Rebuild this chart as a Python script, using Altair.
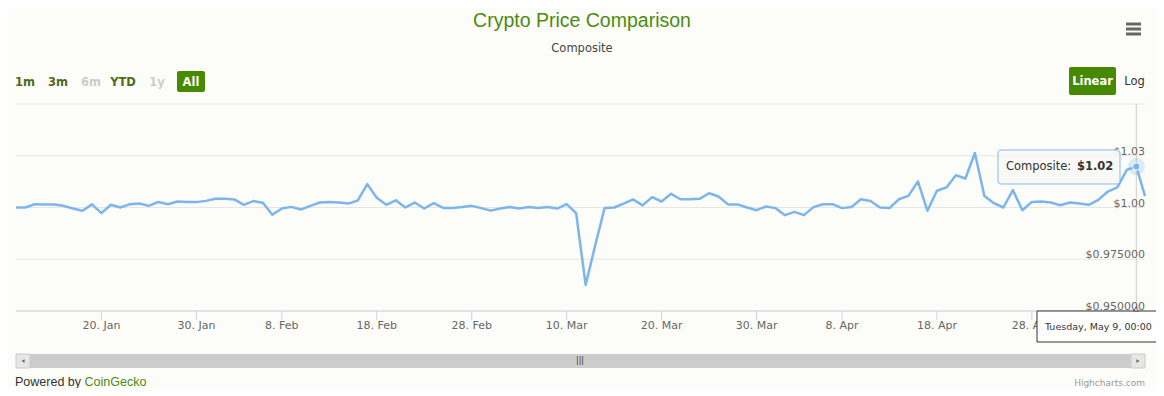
import altair as alt
import pandas as pd

# ---------------- data ----------------
day_dates = [d.strftime("%Y-%m-%dT00:00:00Z") for d in pd.date_range("2017-01-11", "2017-05-09", freq="D")]
dates = day_dates + ["2017-05-09T22:00:00Z"]

values = [
    # Jan 11 - Jan 31
    1.0000, 1.0000, 1.0016, 1.0015, 1.0015, 1.0008, 0.9995, 0.9984, 1.0015, 0.9973,
    1.0013, 1.0000, 1.0016, 1.0019, 1.0008, 1.0027, 1.0016, 1.0029, 1.0027, 1.0026,
    1.0032,
    # Feb 1 - Feb 28
    1.0042, 1.0042, 1.0039, 1.0013, 1.0031, 1.0023, 0.9965, 0.9995, 1.0003, 0.9990,
    1.0008, 1.0024, 1.0027, 1.0024, 1.0019, 1.0034, 1.0113, 1.0047, 1.0013, 1.0035,
    1.0000, 1.0024, 0.9995, 1.0021, 0.9998, 0.9998, 1.0002, 1.0008,
    # Mar 1 - Mar 31
    0.9997, 0.9985, 0.9995, 1.0002, 0.9995, 1.0002, 0.9998, 1.0002, 0.9995, 1.0016,
    0.9973, 0.9626, 0.9815, 0.9998, 1.0000, 1.0019, 1.0039, 1.0010, 1.0050, 1.0029,
    1.0066, 1.0040, 1.0040, 1.0042, 1.0069, 1.0053, 1.0015, 1.0015, 1.0000, 0.9987,
    1.0005,
    # Apr 1 - Apr 30
    0.9997, 0.9963, 0.9979, 0.9963, 1.0002, 1.0016, 1.0016, 0.9997, 1.0002, 1.0040,
    1.0031, 1.0000, 0.9997, 1.0040, 1.0056, 1.0126, 0.9984, 1.0081, 1.0097, 1.0156,
    1.0140, 1.0263, 1.0056, 1.0021, 1.0000, 1.0084, 0.9987, 1.0027, 1.0029, 1.0024,
    # May 1 - May 9, then latest
    1.0011, 1.0024, 1.0019, 1.0013, 1.0037, 1.0077, 1.0097, 1.0182, 1.0198,
    1.0055,
]

x_tick_dates = ["2017-01-20", "2017-01-30", "2017-02-08", "2017-02-18", "2017-02-28", "2017-03-10",
                "2017-03-20", "2017-03-30", "2017-04-08", "2017-04-18", "2017-04-28"]
x_tick_labels = ["20. Jan", "30. Jan", "8. Feb", "18. Feb", "28. Feb", "10. Mar",
                 "20. Mar", "30. Mar", "8. Apr", "18. Apr", "28. Apr"]
y_ticks = [0.95, 0.975, 1.0, 1.025]
y_labels = ["$0.950000", "$0.975000", "$1.00", "$1.03"]
grid_values = [0.95, 0.975, 1.0, 1.025, 1.05]

hover_date = "2017-05-09T00:00:00Z"
hover_value = values[dates.index(hover_date)]

df = pd.DataFrame({"date": dates, "value": values})
df_hover = pd.DataFrame({"date": [hover_date], "value": [hover_value]})
df_ylab = pd.DataFrame({"v": y_ticks, "label": y_labels})
df_xt = pd.DataFrame({"date": [d + "T00:00:00Z" for d in x_tick_dates], "label": x_tick_labels})
df_grid = pd.DataFrame({"v": grid_values})

# ---------------- styling ----------------
W, H = 1129, 207
GREEN = "#4b8b10"
BTN_GREEN = "#468a00"
LINE = "#7cb5ec"

xscale = alt.Scale(type="utc", nice=False)
yscale = alt.Scale(domain=[0.95, 1.05], nice=False, zero=False)

X = alt.X("date:T", scale=xscale, axis=None)

grid = alt.Chart(df_grid).mark_rule(color="#e6e6e6", strokeWidth=1).encode(
    y=alt.Y("v:Q", scale=yscale, axis=None), x=alt.value(0), x2=alt.value(W))

line = alt.Chart(df).mark_line(color=LINE, strokeWidth=2.5, strokeJoin="round").encode(
    x=X, y=alt.Y("value:Q", scale=yscale, axis=None))

ylabels = alt.Chart(df_ylab).mark_text(align="right", baseline="alphabetic", dy=-1,
                                       fontSize=11, color="#666666", font="DejaVu Sans").encode(
    x=alt.value(W), y=alt.Y("v:Q", scale=yscale, axis=None), text="label:N")

xticks = alt.Chart(df_xt).mark_rule(color="#ccd6eb", strokeWidth=1).encode(
    x=X, y=alt.value(H), y2=alt.value(H + 9))
xlabels = alt.Chart(df_xt).mark_text(align="center", baseline="middle", fontSize=11,
                                     color="#666666", font="DejaVu Sans").encode(
    x=X, y=alt.value(H + 14.5), text="label:N")

crosshair = alt.Chart(df_hover).mark_rule(color="#cccccc", strokeWidth=1).encode(
    x=X, y=alt.value(0), y2=alt.value(H))

halo = alt.Chart(df_hover).mark_circle(color=LINE, opacity=0.25, size=300).encode(
    x=X, y=alt.Y("value:Q", scale=yscale, axis=None))
marker = alt.Chart(df_hover).mark_circle(color=LINE, opacity=1, size=55, stroke="#ffffff",
                                         strokeWidth=1).encode(
    x=X, y=alt.Y("value:Q", scale=yscale, axis=None))


def one():
    return pd.DataFrame({"t": [0]})


def txt(text, x, y, **kw):
    return alt.Chart(pd.DataFrame({"t": [text]})).mark_text(**kw).encode(
        x=alt.value(x), y=alt.value(y), text="t:N")


def box(x, x2, y, y2, **kw):
    return alt.Chart(one()).mark_rect(**kw).encode(
        x=alt.value(x), x2=alt.value(x2), y=alt.value(y), y2=alt.value(y2))


def hrule(x, x2, y, **kw):
    return alt.Chart(one()).mark_rule(**kw).encode(x=alt.value(x), x2=alt.value(x2), y=alt.value(y))


def pt(x, y, **kw):
    return alt.Chart(one()).mark_point(**kw).encode(x=alt.value(x), y=alt.value(y))


BTN_Y = -21.5
deco = [
    # x-axis baseline
    hrule(0, W, H, color="#ccd6eb", strokeWidth=1),
    # title & subtitle
    txt("Crypto Price Comparison", 566, -83, fontSize=19.5, font="Liberation Sans", color=GREEN,
        align="center", baseline="middle"),
    txt("Composite", 566, -55.5, fontSize=11.5, font="DejaVu Sans", color="#444444",
        align="center", baseline="middle"),
    # hamburger
    hrule(1110, 1125, -80, color="#666666", strokeWidth=3),
    hrule(1110, 1125, -75, color="#666666", strokeWidth=3),
    hrule(1110, 1125, -70, color="#666666", strokeWidth=3),
    # range selector
    txt("1m", 9, BTN_Y, fontSize=11.5, fontWeight="bold", color="#4c6b1c", align="center", baseline="middle"),
    txt("3m", 42, BTN_Y, fontSize=11.5, fontWeight="bold", color="#4c6b1c", align="center", baseline="middle"),
    txt("6m", 75, BTN_Y, fontSize=11.5, fontWeight="bold", color="#cccccc", align="center", baseline="middle"),
    txt("YTD", 107, BTN_Y, fontSize=11.5, fontWeight="bold", color="#4c6b1c", align="center", baseline="middle"),
    txt("1y", 141, BTN_Y, fontSize=11.5, fontWeight="bold", color="#cccccc", align="center", baseline="middle"),
    box(161, 189, -33, -12, color=BTN_GREEN, cornerRadius=2),
    txt("All", 175, BTN_Y, fontSize=11.5, fontWeight="bold", color="#ffffff", align="center", baseline="middle"),
    # linear / log
    box(1053, 1100, -37, -9, color=BTN_GREEN, cornerRadius=2),
    txt("Linear", 1076.5, -22.5, fontSize=11.5, fontWeight="bold", color="#ffffff", align="center", baseline="middle"),
    txt("Log", 1118.5, -22.5, fontSize=11.5, color="#333333", align="center", baseline="middle"),
    # scrollbar
    box(0, W, 250, 264, color="#cccccc"),
    box(0, 14, 250, 264, color="#e6e6e6", stroke="#cccccc", strokeWidth=1),
    box(W - 14, W, 250, 264, color="#e6e6e6", stroke="#cccccc", strokeWidth=1),
    pt(7, 257, shape="triangle-left", filled=True, size=14, color="#333333"),
    pt(W - 7, 257, shape="triangle-right", filled=True, size=14, color="#333333"),
    txt("|||", 564, 257, fontSize=8, color="#333333", align="center", baseline="middle"),
    # footer
    txt("Powered by", -1, 282, fontSize=12.5, font="Liberation Sans", color="#333333",
        align="left", baseline="alphabetic"),
    txt("CoinGecko", 68.5, 282, fontSize=12.5, font="Liberation Sans", color=GREEN,
        align="left", baseline="alphabetic"),
    txt("Highcharts.com", W, 281.5, fontSize=9, font="DejaVu Sans", color="#999999",
        align="right", baseline="alphabetic"),
    # point tooltip
    box(982, 1104, 46, 80, color="#f9f9f9", opacity=0.92, stroke=LINE, strokeWidth=1, cornerRadius=3),
    txt("Composite:", 990, 63, fontSize=11.5, font="DejaVu Sans", color="#333333",
        align="left", baseline="middle"),
    txt("$" + format(hover_value, ".2f"), 1061, 63, fontSize=11.5, fontWeight="bold", font="DejaVu Sans",
        color="#333333", align="left", baseline="middle"),
    # x-axis tooltip
    box(1021, 1150, 207, 238, color="#ffffff", stroke="#333333", strokeWidth=1),
    pt(1120, 205, shape="triangle-up", filled=True, size=25, color="#ffffff", stroke="#333333", strokeWidth=1),
    txt("Tuesday, May 9, 00:00", 1029, 222.5, fontSize=9.5, font="DejaVu Sans", color="#333333",
        align="left", baseline="middle"),
]

chart = alt.layer(grid, xticks, xlabels, line, crosshair, halo, marker, ylabels, *deco).properties(
    width=W, height=H,
    padding={"left": 8, "top": 96, "right": 11, "bottom": 77},
    autosize=alt.AutoSizeParams(type="none"),
).configure(background="#fcfdf8", font="DejaVu Sans").configure_view(stroke=None)

chart.save("out.html", embed_options={"renderer": "svg", "actions": False})
